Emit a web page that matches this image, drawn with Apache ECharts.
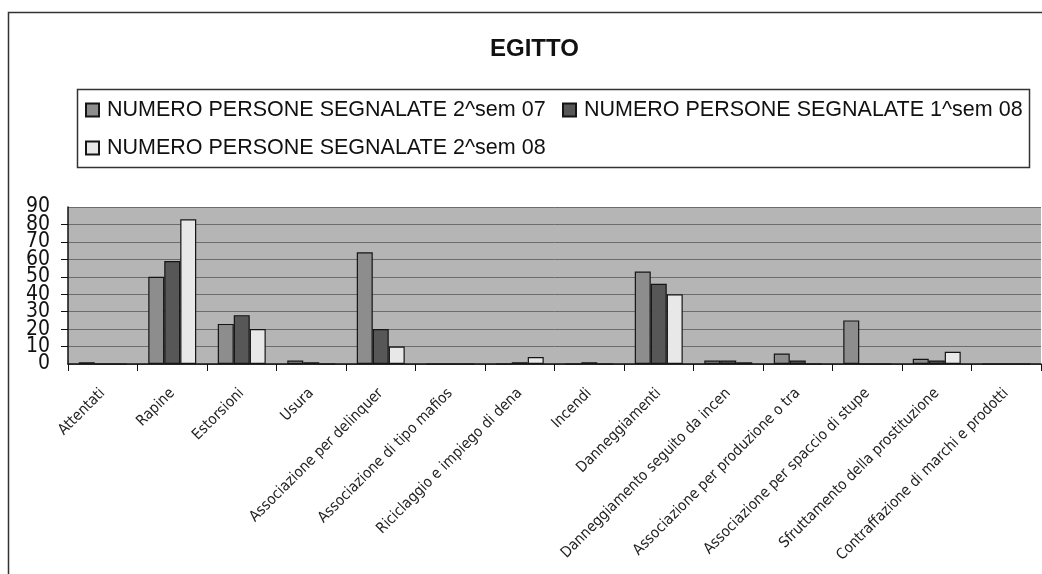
<!DOCTYPE html>
<html>
<head>
<meta charset="utf-8">
<script src="https://cdn.jsdelivr.net/npm/echarts@6/dist/echarts.min.js"></script>
<style>
html,body{margin:0;padding:0;background:#fff;}
#chart{width:1042px;height:574px;}
</style>
</head>
<body>
<div id="chart"></div>
<script>
const title = 'EGITTO';
const categories = [
  'Attentati',
  'Rapine',
  'Estorsioni',
  'Usura',
  'Associazione per delinquer',
  'Associazione di tipo mafios',
  'Riciclaggio e impiego di dena',
  'Incendi',
  'Danneggiamenti',
  'Danneggiamento seguito da incen',
  'Associazione per produzione o tra',
  'Associazione per spaccio di stupe',
  'Sfruttamento della prostituzione',
  'Contraffazione di marchi e prodotti'
];
const seriesNames = [
  'NUMERO PERSONE SEGNALATE 2^sem 07',
  'NUMERO PERSONE SEGNALATE 1^sem 08',
  'NUMERO PERSONE SEGNALATE 2^sem 08'
];
const sem2_07 = [1, 50, 23, 2, 64, 0, 0, 0, 53, 2, 6, 25, 3, 0];
const sem1_08 = [0, 59, 28, 1, 20, 0, 1, 1, 46, 2, 2, 0, 2, 0];
const sem2_08 = [0, 83, 20, 0, 10, 0, 4, 0, 40, 1, 0, 0, 7, 0];
const yTicks = [0, 10, 20, 30, 40, 50, 60, 70, 80, 90];
const yEndTicks = [0, 90];

const colors = ['#8d8d8d', '#575757', '#e8e8e8'];
const values = [sem2_07, sem1_08, sem2_08];

const chart = echarts.init(document.getElementById('chart'), null, {renderer: 'canvas'});

const legendText = {fontSize: 21.5, fontFamily: 'Liberation Sans, Arial, sans-serif', color: '#111', lineHeight: 26, padding: [0, 0, 0, 3]};
const legendBase = {orient: 'horizontal', icon: 'rect', itemWidth: 13, itemHeight: 13, padding: 0, textStyle: legendText, selectedMode: false};
const yLabelFont = {
  margin: 18, fontSize: 21,
  fontFamily: 'Liberation Sans Narrow, DejaVu Sans Condensed, sans-serif',
  color: '#111'
};

chart.setOption({
  backgroundColor: '#ffffff',
  animation: false,
  title: {
    text: title,
    left: 485,
    top: 32,
    textStyle: {fontSize: 24, fontWeight: 'bold', fontFamily: 'Liberation Sans, Arial, sans-serif', color: '#111'}
  },
  legend: [
    Object.assign({}, legendBase, {data: [seriesNames[0]], left: 85, top: 97}),
    Object.assign({}, legendBase, {data: [seriesNames[1]], left: 562, top: 97}),
    Object.assign({}, legendBase, {data: [seriesNames[2]], left: 85, top: 135})
  ],
  graphic: [
    {type: 'rect', shape: {x: 8.5, y: 12.5, width: 1100, height: 700}, style: {fill: 'none', stroke: '#333', lineWidth: 1.5}, silent: true},
    {type: 'rect', shape: {x: 77.5, y: 89.5, width: 952, height: 78}, style: {fill: 'none', stroke: '#333', lineWidth: 1.5}, silent: true}
  ],
  grid: {
    left: 68, right: 1, top: 207, bottom: 210,
    show: true, backgroundColor: '#b5b5b5', borderWidth: 0,
    containLabel: false
  },
  xAxis: {
    type: 'category',
    data: categories,
    boundaryGap: true,
    axisLine: {show: true, lineStyle: {color: '#111', width: 1.5}},
    axisTick: {show: true, length: 7, lineStyle: {color: '#111', width: 1}},
    axisLabel: {
      interval: 0, rotate: 45, margin: 27,
      fontSize: 15, fontFamily: 'Liberation Sans Narrow, DejaVu Sans Condensed, sans-serif',
      color: '#222'
    },
    splitLine: {show: false}
  },
  yAxis: [
    {
      type: 'value',
      min: 0, max: 90, interval: 10,
      axisLine: {show: true, lineStyle: {color: '#111', width: 1.5}},
      axisTick: {show: true, length: 7, lineStyle: {color: '#111'}},
      axisLabel: Object.assign({}, yLabelFont, {
        formatter: function (v) { return yTicks.indexOf(v) >= 0 ? String(v) : ''; }
      }),
      splitLine: {show: true, lineStyle: {color: '#6c6c6c', width: 1}}
    },
    {
      type: 'value',
      position: 'left',
      min: 0, max: 90, interval: 10,
      axisLine: {show: false},
      axisTick: {show: false},
      splitLine: {show: false},
      axisLabel: Object.assign({}, yLabelFont, {
        showMinLabel: true, showMaxLabel: true,
        formatter: function (v) { return yEndTicks.indexOf(v) >= 0 ? String(v) : ''; }
      })
    }
  ],
  series: seriesNames.map(function (name, i) {
    return {
      name: name,
      type: 'bar',
      yAxisIndex: 0,
      data: values[i],
      barGap: '0%',
      barCategoryGap: '31%',
      itemStyle: {color: colors[i], borderColor: '#151515', borderWidth: 1.2}
    };
  })
});
</script>
</body>
</html>
